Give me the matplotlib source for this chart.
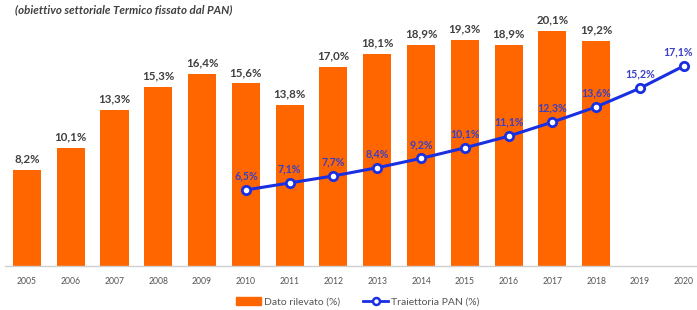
import matplotlib
matplotlib.use("Agg")
import matplotlib.pyplot as plt
from matplotlib.lines import Line2D
from matplotlib.patches import Patch

plt.rcParams['font.family'] = ['Lato', 'DejaVu Sans']

years = ["2005", "2006", "2007", "2008", "2009", "2010", "2011", "2012",
         "2013", "2014", "2015", "2016", "2017", "2018", "2019", "2020"]
dato_rilevato = [8.2, 10.1, 13.3, 15.3, 16.4, 15.6, 13.8, 17.0,
                 18.1, 18.9, 19.3, 18.9, 20.1, 19.2]
traiettoria_years = ["2010", "2011", "2012", "2013", "2014", "2015",
                     "2016", "2017", "2018", "2019", "2020"]
traiettoria_pan = [6.5, 7.1, 7.7, 8.4, 9.2, 10.1, 11.1, 12.3, 13.6, 15.2, 17.1]
subtitle = "(obiettivo settoriale Termico fissato dal PAN)"

orange = "#FF6600"
blue = "#1A2FE0"
label_blue = "#3A3FC8"

fig = plt.figure(figsize=(6.97, 3.10), dpi=100)
ax = fig.add_axes([5/697, 44/310, 1 - 5/697, 257.4/310])

xb = list(range(len(dato_rilevato)))
ax.bar(xb, dato_rilevato, width=0.64, color=orange, zorder=2)
for x, v in zip(xb, dato_rilevato):
    ax.annotate(f"{v:.1f}%".replace(".", ","), (x, v), xytext=(0, 4),
                textcoords="offset points", ha="center", va="bottom",
                fontsize=8.3, fontweight="bold", color="#404040")

xl = [years.index(y) for y in traiettoria_years]
ax.plot(xl, traiettoria_pan, color=blue, lw=2.2, marker="o", ms=6,
        mfc="white", mec=blue, mew=2, zorder=3)
for i, (x, v) in enumerate(zip(xl, traiettoria_pan)):
    dx = -4 if i == len(xl) - 1 else 0
    ax.annotate(f"{v:.1f}%".replace(".", ","), (x, v), xytext=(dx, 6),
                textcoords="offset points", ha="center", va="bottom",
                fontsize=7.7, fontweight="bold", color=label_blue, zorder=4)

ax.set_xlim(-0.5, 15.3)
ax.set_ylim(0, 22)
ax.set_xticks(range(len(years)))
ax.set_xticklabels(years, fontsize=6.2, color="#555555")
ax.tick_params(axis="x", length=0, pad=8)
ax.set_yticks([])
for s in ["top", "right", "left"]:
    ax.spines[s].set_visible(False)
ax.spines["bottom"].set_color("#D0D0D0")
ax.spines["bottom"].set_linewidth(1)
ax.patch.set_alpha(0)

handles = [Patch(facecolor=orange, edgecolor=orange),
           Line2D([0], [0], color=blue, lw=2, marker="o", ms=5,
                  mfc="white", mec=blue, mew=1.8)]
fig.legend(handles, ["Dato rilevato (%)", "Traiettoria PAN (%)"],
           loc="center", bbox_to_anchor=(358/697, 1 - 302/310), ncol=2,
           frameon=False, fontsize=7.5, handlelength=2.4, handleheight=0.7,
           columnspacing=2.2, labelcolor="#555555", handletextpad=0.3)

fig.text(15/697, 1 - 10/310, subtitle, fontsize=8.3, fontweight="bold",
         fontstyle="italic", color="#404040", ha="left", va="center")

fig.savefig("out.png", dpi=100)
